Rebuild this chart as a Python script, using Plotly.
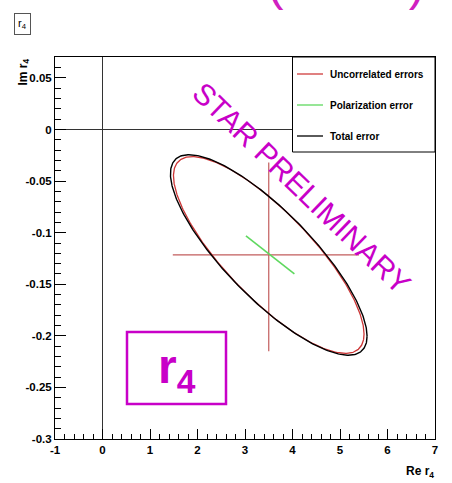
import numpy as np
import plotly.graph_objects as go

# ---------------- data ----------------
center_re = 3.5
center_im = -0.1216
uncorr_bar_re = [1.48, 5.40]        # horizontal red bar (Re)
uncorr_bar_im = [-0.032, -0.215]    # vertical red bar (Im)
pol_bar_re = [3.02, 4.04]           # green polarization segment
pol_bar_im = [-0.103, -0.140]
# error ellipses: [sigma_Re, sigma_Im, correlation]
uncorr_ellipse = [2.006, 0.0954, -0.803]
total_ellipse = [2.07, 0.0972, -0.81]

x_tickvals = [-1, 0, 1, 2, 3, 4, 5, 6, 7]
x_ticktext = ["-1", "0", "1", "2", "3", "4", "5", "6", "7"]
y_tickvals = [0.05, 0, -0.05, -0.1, -0.15, -0.2, -0.25, -0.3]
y_ticktext = ["0.05", "0", "-0.05", "-0.1", "-0.15", "-0.2", "-0.25", "-0.3"]
legend_labels = ["Uncorrelated errors", "Polarization error", "Total error"]
legend_colors = ["#d03c3c", "#5fd85f", "#000000"]

RED = "#cc3535"
RED_PALE = "#c25c5c"
GREEN = "#5fd85f"
MAGENTA = "#c800c8"
SANS = "Liberation Sans, Arial, Helvetica, sans-serif"


def ellipse(params):
    sx, sy, rho = params
    t = np.linspace(0, 2 * np.pi, 400)
    xs = center_re + sx * np.cos(t)
    ys = center_im + sy * (rho * np.cos(t) + np.sqrt(1 - rho ** 2) * np.sin(t))
    return xs, ys


fig = go.Figure()

# uncorrelated error bars (red cross)
fig.add_trace(go.Scatter(x=uncorr_bar_re, y=[center_im, center_im], mode="lines",
                         line=dict(color=RED_PALE, width=1.3), showlegend=False))
fig.add_trace(go.Scatter(x=[center_re, center_re], y=uncorr_bar_im, mode="lines",
                         line=dict(color=RED_PALE, width=1.2), showlegend=False))
# polarization error (green)
fig.add_trace(go.Scatter(x=pol_bar_re, y=pol_bar_im, mode="lines",
                         line=dict(color=GREEN, width=1.6), showlegend=False))
# ellipses
ex, ey = ellipse(uncorr_ellipse)
fig.add_trace(go.Scatter(x=ex, y=ey, mode="lines", line=dict(color=RED, width=1.3),
                         name=legend_labels[0], showlegend=False))
tx, ty = ellipse(total_ellipse)
fig.add_trace(go.Scatter(x=tx, y=ty, mode="lines", line=dict(color="black", width=1.4),
                         name=legend_labels[2], showlegend=False))

# ---------------- layout ----------------
W, H = 452, 483
ML, MR, MT, MB = 55, 17, 57, 44
PW, PH = W - ML - MR, H - MT - MB


def px2paper(px, py):
    return (px - ML) / PW, (H - MB - py) / PH


shapes = []
annotations = []

# legend box
lx0, ly0 = px2paper(292.5, 57)
lx1, ly1 = px2paper(435, 152)
shapes.append(dict(type="rect", xref="paper", yref="paper", x0=lx0, y0=ly1, x1=lx1, y1=ly0,
                   line=dict(color="black", width=1), fillcolor="white", layer="above"))
for i, (lab, col) in enumerate(zip(legend_labels, legend_colors)):
    py = 74 + i * 31
    a0, b0 = px2paper(297, py)
    a1, _ = px2paper(323, py)
    shapes.append(dict(type="line", xref="paper", yref="paper", x0=a0, x1=a1, y0=b0, y1=b0,
                       line=dict(color=col, width=1.3), layer="above"))
    ta, tb = px2paper(328, py)
    annotations.append(dict(xref="paper", yref="paper", x=ta, y=tb, text=lab, showarrow=False,
                            xanchor="left", yanchor="middle",
                            font=dict(family=SANS, size=10, color="black", weight="bold")))

# magenta r4 box
bx0, by0 = px2paper(127, 332)
bx1, by1 = px2paper(226, 404)
shapes.append(dict(type="rect", xref="paper", yref="paper", x0=bx0, y0=by1, x1=bx1, y1=by0,
                   line=dict(color=MAGENTA, width=2.5), fillcolor="rgba(0,0,0,0)", layer="above"))
cx, cy = px2paper(177, 370)
annotations.append(dict(xref="paper", yref="paper", x=cx, y=cy,
                        text="<b>r<sub>4</sub></b>", showarrow=False,
                        xanchor="center", yanchor="middle",
                        font=dict(family=SANS, size=48, color=MAGENTA)))

# STAR PRELIMINARY
sx_, sy_ = px2paper(301, 188)
annotations.append(dict(xref="paper", yref="paper", x=sx_, y=sy_, text="STAR PRELIMINARY",
                        showarrow=False, textangle=44, xanchor="center", yanchor="middle",
                        font=dict(family=SANS, size=30, color=MAGENTA)))

# title box top-left
tbx, tby = px2paper(22.5, 23.5)
annotations.append(dict(xref="paper", yref="paper", x=tbx, y=tby, text="r<sub>4</sub>",
                        showarrow=False, xanchor="center", yanchor="middle",
                        bordercolor="#555555", borderwidth=1, borderpad=3, bgcolor="white",
                        font=dict(family=SANS, size=11, color="black")))

# clipped slide heading at the very top (only its lower edge is visible)
hx, hy = px2paper(28, -16)
annotations.append(dict(xref="paper", yref="paper", x=hx, y=hy,
                        text="Correlated (errors)", showarrow=False,
                        xanchor="left", yanchor="middle",
                        font=dict(family=SANS, size=48, color="#d020c0")))

# axis titles
ix, iy = px2paper(23, 57)
annotations.append(dict(xref="paper", yref="paper", x=ix, y=iy, text="Im r<sub>4</sub>",
                        showarrow=False, textangle=-90, xanchor="center", yanchor="top",
                        font=dict(family=SANS, size=12, color="black", weight="bold")))
rx, ry = px2paper(436, 472)
annotations.append(dict(xref="paper", yref="paper", x=rx, y=ry, text="Re r<sub>4</sub>",
                        showarrow=False, xanchor="right", yanchor="middle",
                        font=dict(family=SANS, size=12, color="black", weight="bold")))

tickfont = dict(family=SANS, size=11.5, color="black", weight="bold")

fig.update_layout(
    width=W, height=H,
    margin=dict(l=ML, r=MR, t=MT, b=MB, pad=0),
    paper_bgcolor="white", plot_bgcolor="white",
    showlegend=False,
    shapes=shapes, annotations=annotations,
    xaxis=dict(range=[-1, 7], tickmode="array", tickvals=x_tickvals, ticktext=x_ticktext,
               ticks="inside", ticklen=10, tickwidth=1, tickcolor="black",
               minor=dict(tickmode="linear", tick0=-1, dtick=0.2, ticks="inside", ticklen=5,
                          tickcolor="black", showgrid=False),
               showgrid=False, zeroline=True, zerolinecolor="#333333", zerolinewidth=1,
               showline=True, linecolor="black", linewidth=1, mirror=True,
               tickfont=tickfont, fixedrange=True),
    yaxis=dict(range=[-0.3, 0.0703], tickmode="array", tickvals=y_tickvals, ticktext=y_ticktext,
               ticks="inside", ticklen=11, tickwidth=1, tickcolor="black",
               minor=dict(tickmode="linear", tick0=0, dtick=0.01, ticks="inside", ticklen=6,
                          tickcolor="black", showgrid=False),
               showgrid=False, zeroline=True, zerolinecolor="#333333", zerolinewidth=1,
               showline=True, linecolor="black", linewidth=1, mirror=True,
               tickfont=tickfont, fixedrange=True),
)

fig.write_html("out.html", config={"displayModeBar": False})
